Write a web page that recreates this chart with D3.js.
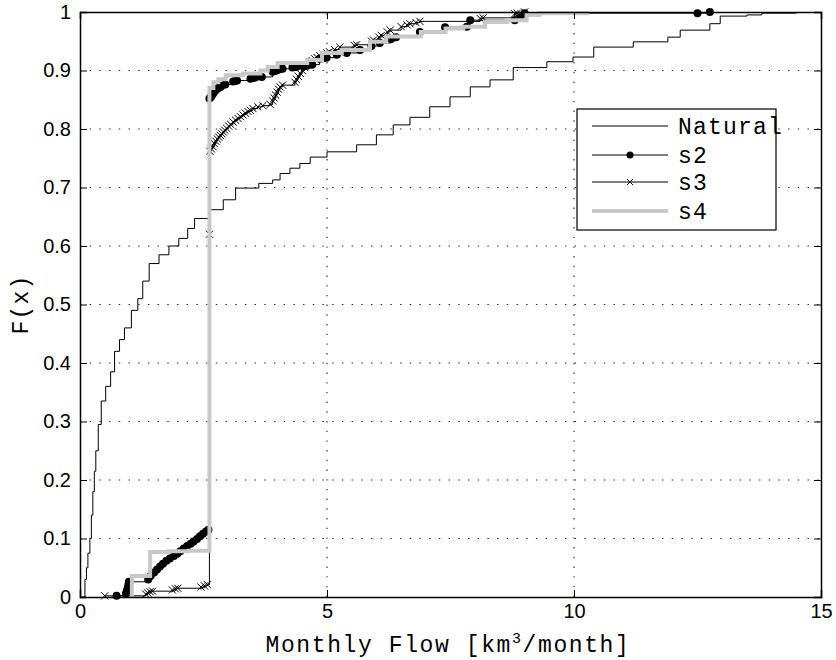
<!DOCTYPE html>
<html>
<head>
<meta charset="utf-8">
<script src="https://cdn.jsdelivr.net/npm/d3@7"></script>
<style>
  body { margin: 0; background: #fff; }
</style>
</head>
<body>
<div id="chart"></div>
<script>
// tick labels
const xTicks = [0, 5, 10, 15];
const yTicks = [0, 0.1, 0.2, 0.3, 0.4, 0.5, 0.6, 0.7, 0.8, 0.9, 1];
const seriesNames = ["Natural", "s2", "s3", "s4"];

const naturalPts = [[0.03,0],[0.1,0.03],[0.13,0.05],[0.16,0.075],[0.2,0.1],[0.23,0.14],[0.26,0.18],[0.29,0.215],
  [0.32,0.25],[0.37,0.295],[0.43,0.335],[0.52,0.36],[0.62,0.385],[0.7,0.42],[0.8,0.44],[0.9,0.46],[1.04,0.49],
  [1.17,0.51],[1.27,0.54],[1.4,0.57],[1.6,0.585],[1.8,0.6],[2.0,0.613],[2.18,0.63],[2.32,0.647],[2.62,0.662],
  [2.9,0.679],[3.15,0.699],[3.62,0.707],[3.9,0.713],[4.05,0.724],[4.25,0.733],[4.45,0.741],[4.66,0.752],[5.0,0.761],
  [5.6,0.773],[6.0,0.79],[6.34,0.807],[6.68,0.82],[7.08,0.838],[7.49,0.855],[7.9,0.872],[8.3,0.884],[8.77,0.905],
  [9.45,0.915],[9.98,0.923],[10.4,0.94],[11.2,0.949],[11.9,0.957],[12.15,0.969],[12.75,0.98],[12.96,0.993],
  [13.5,0.995],[13.8,0.998],[14.5,1.0]];

const s2Pts = [[0.74,0.002],[0.93,0.006],[0.95,0.011],[0.97,0.016],[0.98,0.021],[0.99,0.026],[1.38,0.03],[1.43,0.036],
  [1.5,0.042],[1.56,0.047],[1.62,0.052],[1.68,0.057],[1.75,0.062],[1.82,0.066],[1.9,0.07],[1.97,0.074],[2.03,0.078],
  [2.1,0.083],[2.17,0.087],[2.24,0.091],[2.3,0.095],[2.37,0.099],[2.43,0.104],[2.49,0.108],[2.55,0.112],[2.6,0.115],
  [2.62,0.852],[2.64,0.854],[2.66,0.856],[2.68,0.859],[2.7,0.861],[2.72,0.864],[2.74,0.866],[2.77,0.868],[2.8,0.87],
  [2.84,0.872],[2.87,0.874],[2.94,0.876],[3.1,0.881],[3.14,0.882],[3.18,0.883],[3.45,0.886],[3.5,0.887],[3.55,0.888],
  [3.68,0.889],[3.9,0.898],[3.94,0.899],[3.98,0.9],[4.04,0.902],[4.1,0.903],[4.3,0.905],[4.38,0.906],[4.52,0.907],
  [4.6,0.908],[4.7,0.91],[4.85,0.92],[4.92,0.921],[4.99,0.922],[5.2,0.927],[5.4,0.93],[5.67,0.935],[5.9,0.942],
  [6.07,0.947],[6.3,0.954],[6.4,0.957],[6.88,0.966],[7.39,0.974],[7.83,0.975],[7.9,0.986],[8.8,0.986],[8.9,0.99],
  [9.0,0.998],[12.5,0.998],[12.75,1.0]];

const s3Pts = [[0.5,0.002],[1.33,0.005],[1.37,0.007],[1.42,0.009],[1.47,0.01],[1.87,0.012],[1.93,0.014],[1.98,0.015],
  [2.45,0.017],[2.52,0.019],[2.58,0.021],[2.62,0.62],[2.63,0.762],[2.66,0.766],[2.69,0.77],[2.72,0.775],[2.75,0.779],
  [2.78,0.783],[2.81,0.786],[2.84,0.789],[2.87,0.792],[2.9,0.795],[2.93,0.798],[2.97,0.801],[3.01,0.805],[3.05,0.808],
  [3.1,0.812],[3.15,0.815],[3.2,0.818],[3.25,0.821],[3.3,0.824],[3.35,0.827],[3.4,0.83],[3.45,0.832],[3.5,0.835],
  [3.6,0.838],[3.7,0.84],[3.85,0.842],[3.9,0.848],[3.93,0.853],[3.96,0.858],[3.99,0.863],[4.02,0.868],[4.05,0.872],
  [4.1,0.875],[4.35,0.88],[4.38,0.885],[4.42,0.89],[4.46,0.895],[4.5,0.9],[4.55,0.905],[4.6,0.91],[4.65,0.914],
  [4.7,0.917],[4.75,0.92],[4.8,0.922],[4.86,0.925],[4.92,0.928],[5.0,0.93],[5.05,0.932],[5.15,0.936],[5.26,0.94],
  [5.55,0.943],[5.6,0.944],[5.9,0.95],[5.94,0.952],[6.05,0.957],[6.1,0.96],[6.22,0.966],[6.28,0.969],[6.5,0.975],
  [6.62,0.978],[6.68,0.98],[6.8,0.982],[6.88,0.984],[8.1,0.989],[8.16,0.99],[8.8,0.997],[8.85,0.998],[9.0,1.0]];

const s4Pts = [[1.05,0],[1.05,0.036],[1.42,0.077],[1.8,0.078],[2.2,0.079],[2.62,0.08],[2.62,0.87],[2.7,0.88],
  [2.8,0.885],[2.95,0.892],[3.3,0.895],[3.65,0.9],[3.8,0.906],[4.0,0.913],[4.6,0.918],[4.9,0.93],[5.3,0.935],
  [5.87,0.949],[6.2,0.958],[6.9,0.966],[7.4,0.972],[7.76,0.975],[8.2,0.983],[8.64,0.986],[9.04,0.995],[9.3,0.998],
  [10.3,0.998]];

const width = 836, height = 660;
const margin = { top: 12, right: 15, bottom: 63, left: 80 };

const svg = d3.select("#chart")
  .append("svg")
  .attr("width", width)
  .attr("height", height)
  .style("font-family", "'Liberation Sans', Arial, sans-serif");

const x = d3.scaleLinear().domain([0, 15]).range([margin.left, width - margin.right]);
const y = d3.scaleLinear().domain([0, 1]).range([height - margin.bottom, margin.top]);

// dotted grid
const grid = svg.append("g")
  .attr("stroke", "#222")
  .attr("stroke-width", 1.1)
  .attr("stroke-dasharray", "1.4,8.3");
grid.selectAll(".gx")
  .data(xTicks.slice(1, -1))
  .join("line")
  .attr("x1", d => x(d)).attr("x2", d => x(d))
  .attr("y1", y(0)).attr("y2", y(1));
grid.selectAll(".gy")
  .data(yTicks.slice(1, -1))
  .join("line")
  .attr("x1", x(0)).attr("x2", x(15))
  .attr("y1", d => y(d)).attr("y2", d => y(d));

// series
const stair = d3.line()
  .x(d => x(d[0]))
  .y(d => y(d[1]))
  .curve(d3.curveStepAfter);

svg.append("path")
  .datum(naturalPts)
  .attr("fill", "none")
  .attr("stroke", "#000")
  .attr("stroke-width", 1)
  .attr("d", stair);

svg.append("path")
  .datum(s2Pts)
  .attr("fill", "none")
  .attr("stroke", "#000")
  .attr("stroke-width", 1)
  .attr("d", stair);
svg.selectAll(".dot")
  .data(s2Pts)
  .join("circle")
  .attr("class", "dot")
  .attr("cx", d => x(d[0]))
  .attr("cy", d => y(d[1]))
  .attr("r", 4)
  .attr("fill", "#000");

const cross = s => `M${-s},${-s}L${s},${s}M${-s},${s}L${s},${-s}`;
svg.append("path")
  .datum(s3Pts)
  .attr("fill", "none")
  .attr("stroke", "#000")
  .attr("stroke-width", 1)
  .attr("d", stair);
svg.selectAll(".cross")
  .data(s3Pts)
  .join("path")
  .attr("class", "cross")
  .attr("transform", d => `translate(${x(d[0])},${y(d[1])})`)
  .attr("d", cross(3.6))
  .attr("stroke", "#000")
  .attr("stroke-width", 1);

svg.append("path")
  .datum(s4Pts)
  .attr("fill", "none")
  .attr("stroke", "#c8c8c8")
  .attr("stroke-width", 4)
  .attr("d", stair);

// axes with inward ticks on all four sides
const xAxis = svg.append("g")
  .attr("transform", `translate(0,${y(0)})`)
  .call(d3.axisBottom(x).tickValues(xTicks).tickSize(-7).tickPadding(7).tickFormat(d3.format("d")));
const yAxis = svg.append("g")
  .attr("transform", `translate(${x(0)},0)`)
  .call(d3.axisLeft(y).tickValues(yTicks).tickSize(-7).tickPadding(9).tickFormat(d => d === 0 || d === 1 ? d : d3.format(".1f")(d)));
const xTop = svg.append("g")
  .attr("transform", `translate(0,${y(1)})`)
  .call(d3.axisTop(x).tickValues(xTicks).tickSize(-7).tickFormat(""));
const yRight = svg.append("g")
  .attr("transform", `translate(${x(15)},0)`)
  .call(d3.axisRight(y).tickValues(yTicks).tickSize(-7).tickFormat(""));

[xAxis, yAxis, xTop, yRight].forEach(g => {
  g.select(".domain").attr("stroke-width", 1.5).attr("stroke", "#000");
  g.selectAll(".tick line").attr("stroke", "#000").attr("stroke-width", 1);
  g.selectAll(".tick text")
    .attr("font-size", 20)
    .attr("font-family", "'Liberation Sans', Arial, sans-serif")
    .attr("fill", "#000");
});

// axis labels
const mono = "'Liberation Mono', 'Courier New', monospace";
const xLabel = svg.append("text")
  .attr("x", 448)
  .attr("y", 652)
  .attr("text-anchor", "middle")
  .attr("font-family", mono)
  .attr("font-size", 23)
  .attr("letter-spacing", 1.6)
  .attr("fill", "#000");
xLabel.append("tspan").text("Monthly Flow [km");
xLabel.append("tspan").attr("dy", -9).attr("font-size", 15).text("3");
xLabel.append("tspan").attr("dy", 9).text("/month]");

svg.append("text")
  .attr("transform", `translate(28,${(y(0) + y(1)) / 2}) rotate(-90)`)
  .attr("text-anchor", "middle")
  .attr("font-family", mono)
  .attr("font-size", 23)
  .attr("letter-spacing", 1.2)
  .attr("fill", "#000")
  .text("F(x)");

// legend
const legend = svg.append("g");
legend.append("rect")
  .attr("x", 577).attr("y", 109)
  .attr("width", 199).attr("height", 121)
  .attr("fill", "#fff")
  .attr("stroke", "#000")
  .attr("stroke-width", 1.2);
const rowY = [126, 155, 182, 211];
const rows = legend.selectAll(".row")
  .data(seriesNames)
  .join("g")
  .attr("class", "row")
  .attr("transform", (d, i) => `translate(0,${rowY[i]})`);
rows.append("line")
  .attr("x1", 592).attr("x2", 668)
  .attr("stroke", (d, i) => i === 3 ? "#c8c8c8" : "#000")
  .attr("stroke-width", (d, i) => i === 3 ? 4 : 1);
rows.filter((d, i) => i === 1).append("circle")
  .attr("cx", 630).attr("r", 3.5).attr("fill", "#000");
rows.filter((d, i) => i === 2).append("path")
  .attr("transform", "translate(630,0)")
  .attr("d", cross(3))
  .attr("stroke", "#000");
rows.append("text")
  .attr("x", 678)
  .attr("dy", "0.36em")
  .attr("font-family", mono)
  .attr("font-size", 23)
  .attr("letter-spacing", 1.2)
  .attr("fill", "#000")
  .text(d => d);
</script>
</body>
</html>
